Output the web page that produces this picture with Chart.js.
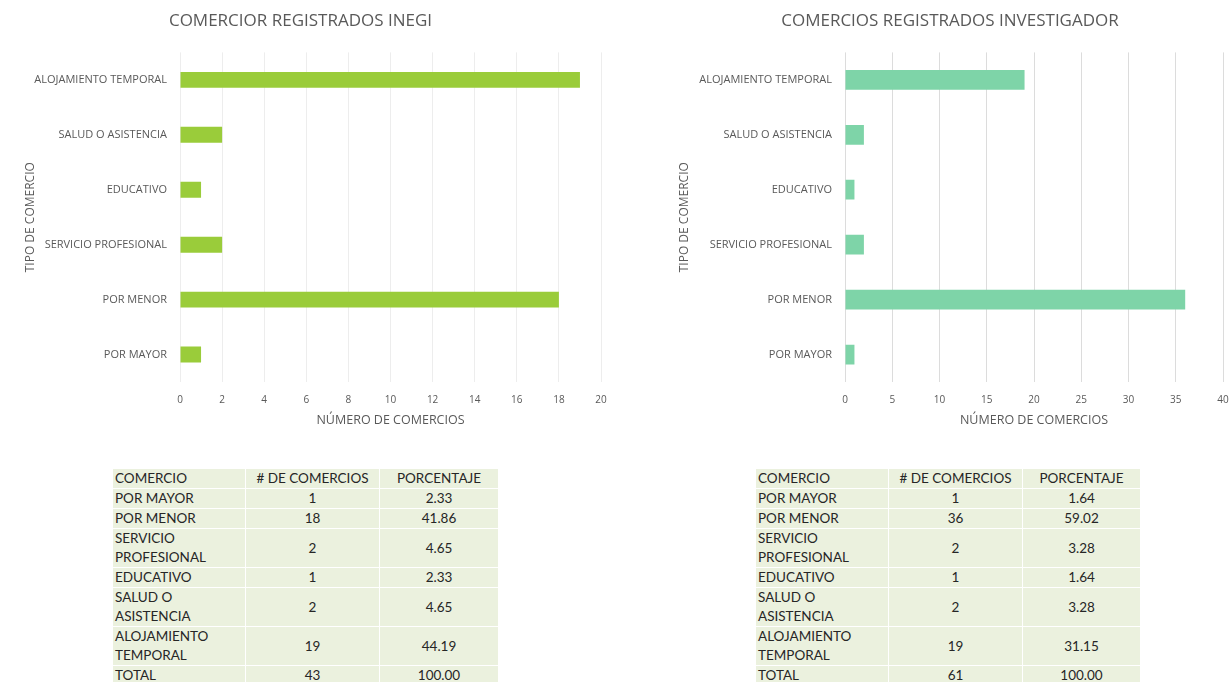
<!DOCTYPE html>
<html>
<head>
<meta charset="utf-8">
<script src="https://cdn.jsdelivr.net/npm/chart.js@4/dist/chart.umd.min.js"></script>
<style>
html,body{margin:0;padding:0;background:#fff;width:1231px;height:682px;overflow:hidden;}
.chartbox{position:absolute;top:0;height:440px;}
#c1box{left:0;width:615px;}
#c2box{left:620px;width:611px;}
table{position:absolute;top:468px;border-collapse:collapse;background:#ebf1de;font-family:Lato,"Open Sans",sans-serif;font-size:13.5px;color:#262626;table-layout:fixed;}
td{border:1px solid #fff;padding:0 2px;line-height:19px;height:19px;vertical-align:middle;white-space:normal;}
td.n{text-align:center;}
#t1{left:112px;}
#t2{left:755px;}
</style>
</head>
<body>
<div class="chartbox" id="c1box"><canvas id="c1"></canvas></div>
<div class="chartbox" id="c2box"><canvas id="c2"></canvas></div>
<table id="t1"></table>
<table id="t2"></table>
<script>
// ---- data ----
const categories = ["POR MAYOR", "POR MENOR", "SERVICIO PROFESIONAL", "EDUCATIVO", "SALUD O ASISTENCIA", "ALOJAMIENTO TEMPORAL"];
const inegiValues = [1, 18, 2, 1, 2, 19];
const investigadorValues = [1, 36, 2, 1, 2, 19];
const inegiPct = ["2.33", "41.86", "4.65", "2.33", "4.65", "44.19"];
const investigadorPct = ["1.64", "59.02", "3.28", "1.64", "3.28", "31.15"];
const inegiTotal = ["43", "100.00"];
const investigadorTotal = ["61", "100.00"];
const tableHeaders = ["COMERCIO", "# DE COMERCIOS", "PORCENTAJE"];
const tableRowNames = ["POR MAYOR", "POR MENOR", "SERVICIO PROFESIONAL", "EDUCATIVO", "SALUD O ASISTENCIA", "ALOJAMIENTO TEMPORAL", "TOTAL"];
const title1 = "COMERCIOR REGISTRADOS INEGI";
const title2 = "COMERCIOS REGISTRADOS INVESTIGADOR";
const xTitle = "NÚMERO DE COMERCIOS";
const yTitle = "TIPO DE COMERCIO";
const xMax1 = 20, xStep1 = 2;
const xMax2 = 40, xStep2 = 5;

// ---- charts ----
const txt = '#595959';
function makeChart(id, values, color, title, max, step, o) {
  return new Chart(document.getElementById(id), {
    type: 'bar',
    data: { labels: categories, datasets: [{ data: values, backgroundColor: color, barPercentage: o.bp, categoryPercentage: 1 }] },
    options: {
      indexAxis: 'y', responsive: true, maintainAspectRatio: false, animation: false,
      layout: { padding: { left: o.padL, right: o.padR, top: 0, bottom: 0 } },
      plugins: {
        legend: { display: false }, tooltip: { enabled: false },
        title: { display: true, text: title, color: txt, font: { family: 'Open Sans', size: 17, weight: 'normal' }, padding: { top: 11, bottom: 21 } }
      },
      scales: {
        x: {
          min: 0, max: max,
          ticks: { stepSize: step, color: txt, font: { family: 'Open Sans', size: 10 }, padding: 12 },
          grid: { color: o.grid, drawTicks: false, lineWidth: 1 },
          border: { display: false },
          title: { display: true, text: xTitle, color: txt, font: { family: 'Open Sans', size: 12.5 }, padding: { top: 0, bottom: 12 } },
          afterFit(s) { s.height = 58; s.paddingRight = 0; s.paddingLeft = 0; }
        },
        y: {
          reverse: true,
          ticks: { color: txt, font: { family: 'Open Sans', size: 11 }, padding: 5 },
          grid: { display: false },
          border: { display: false },
          title: { display: true, text: yTitle, color: txt, font: { family: 'Open Sans', size: 12 }, padding: { top: o.ytp, bottom: 0 } },
          afterFit(s) { s.width = o.yw; s.paddingTop = 0; s.paddingBottom = 0; }
        }
      }
    }
  });
}
makeChart('c1', inegiValues, '#9acc3a', title1, xMax1, xStep1, { bp: 0.29, padL: 0, padR: 14, yw: 180, ytp: 23, grid: '#ededed' });
makeChart('c2', investigadorValues, '#7ed4a8', title2, xMax2, xStep2, { bp: 0.36, padL: 57, padR: 8, yw: 168, ytp: 0, grid: '#dcdcdc' });

// ---- tables ----
function buildTable(id, values, pcts, total, widths) {
  const t = document.getElementById(id);
  const cg = document.createElement('colgroup');
  widths.forEach(w => { const c = document.createElement('col'); c.style.width = w + 'px'; cg.appendChild(c); });
  t.appendChild(cg);
  const addRow = (cells) => {
    const tr = document.createElement('tr');
    cells.forEach((c, i) => { const td = document.createElement('td'); td.textContent = c; if (i > 0) td.className = 'n'; tr.appendChild(td); });
    t.appendChild(tr);
  };
  addRow(tableHeaders);
  for (let i = 0; i < categories.length; i++) addRow([tableRowNames[i], String(values[i]), pcts[i]]);
  addRow([tableRowNames[6], total[0], total[1]]);
}
buildTable('t1', inegiValues, inegiPct, inegiTotal, [133, 134, 119]);
buildTable('t2', investigadorValues, investigadorPct, investigadorTotal, [133, 134, 118]);
</script>
</body>
</html>
